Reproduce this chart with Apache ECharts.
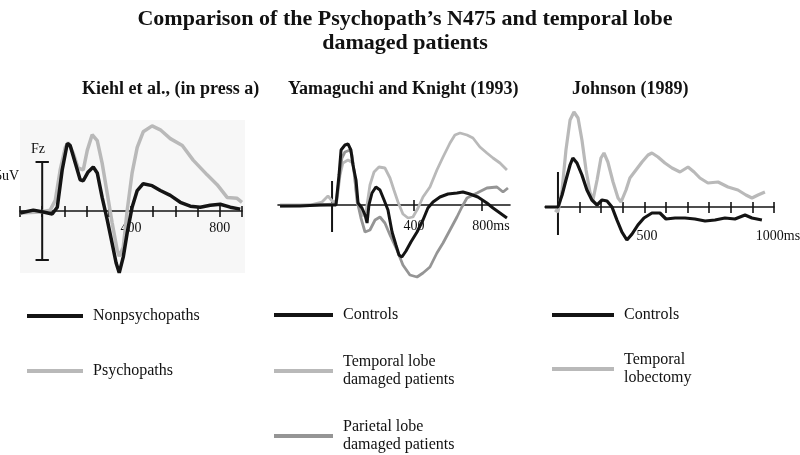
<!DOCTYPE html>
<html>
<head>
<meta charset="utf-8">
<title>N475 comparison</title>
<script src="https://cdn.jsdelivr.net/npm/echarts@6/dist/echarts.min.js"></script>
<style>
  html, body { margin: 0; padding: 0; background: #fff; }
  #main { width: 800px; height: 455px; }
</style>
</head>
<body>
<div id="main"></div>
<script>
// ---- Kiehl et al. (ms, uV; negative plotted up) ----
var kiehlNonTime = [-100,-40,5,45,68,90,113,126,149,171,185,207,230,248,270,293,315,333,347,365,383,405,428,455,495,532,577,622,667,712,757,802,847,892];
var kiehlNonUv   = [0.2,-0.1,0.1,0.3,-0.4,-4.2,-6.9,-6.7,-4.9,-3.2,-3.1,-4.0,-4.5,-3.9,-1.4,0.9,3.3,5.3,6.3,4.7,2.2,-0.4,-2.1,-2.8,-2.6,-2.1,-1.6,-0.9,-0.5,-0.4,-0.6,-0.7,-0.4,-0.2];
var kiehlPsyTime = [-100,-9,36,59,81,104,117,140,162,185,203,225,248,270,293,315,338,347,365,383,405,428,455,495,532,577,631,680,743,788,833,878,900];
var kiehlPsyUv   = [0.2,0.1,-0.1,-1.1,-4.2,-6.5,-7.0,-5.9,-4.4,-4.2,-6.2,-7.8,-7.2,-4.9,-1.8,1.2,4.0,4.6,3.7,-0.1,-3.9,-6.5,-8.1,-8.7,-8.3,-7.4,-6.7,-5.2,-3.7,-2.7,-1.4,-1.3,-0.9];
var kiehlTicks  = [-100,0,100,200,300,400,500,600,700,800,900];
var kiehlLabels = [400, 800];

// ---- Yamaguchi and Knight (1993) ----
var ykCtrlTime = [-388,-271,-153,-59,-41,-29,-6,12,29,41,59,71,94,112,124,135,153,176,200,224,247,271,294,312,329,353,382,418,453,482,512,553,600,653,688,729,776,829,865,906,947];
var ykCtrlUv   = [0.2,0.2,0,0,-6,-11,-12,-12.2,-11,-8,-5,-0.4,0.6,2,3.6,0,-2.4,-3.6,-3,-1,1,5.4,8,10,10.4,9.2,7.4,5.4,3,0.6,-0.6,-1.6,-2.2,-2.4,-2.6,-2.2,-1.6,-0.4,0.6,1.6,2.6];
var ykTempTime = [-388,-212,-141,-106,-76,-53,-35,-18,12,41,53,65,82,100,118,141,165,194,229,259,282,306,335,365,394,424,453,494,535,571,612,641,671,712,747,788,829,865,906,947];
var ykTempUv   = [0,0,-0.6,-1.8,-0.6,-1,-6,-8.4,-9,-8.4,-5,-0.6,1,2.2,1.4,-4,-6.6,-7.6,-7.4,-5.4,-3,-0.6,1.8,2.6,2.4,0.6,-1.6,-3.6,-7,-9.6,-12.4,-14,-14.4,-14,-13.4,-11.6,-10.4,-9.4,-8.4,-7];
var ykPariTime = [-388,-153,-59,-41,-24,-6,24,35,47,59,71,88,112,141,171,200,229,259,300,335,376,418,453,494,535,571,612,653,682,712,771,829,888,924,953];
var ykPariUv   = [0.2,0,-0.2,-5,-9.4,-10.6,-11,-10,-7,-3,0,2.6,5.4,5,3,2.4,3.6,6,9,12,14,14.4,13.6,12.4,9.6,7.6,5,2.4,0.4,-1.4,-2.4,-3.4,-3.6,-2.6,-3.4];
var ykTicks = [400, 800];
var ykOnset = -82;

// ---- Johnson (1989) ----
var jCtrlTime = [-60,0,19,37,56,69,88,111,134,157,181,204,227,250,273,296,319,343,370,398,435,472,500,542,588,634,681,727,773,819,866,898,944];
var jCtrlUv   = [0,0,-2.4,-5.4,-8.4,-9.8,-8.8,-6.4,-3.4,-1.4,-0.4,-1.4,-1.2,0,2.6,5,6.6,5.4,3.6,2.2,1.2,1.2,2.4,2.2,2.2,2.4,2.8,2.6,2.2,2.4,1.6,2.2,2.6];
var jLobTime  = [-14,0,19,37,56,74,93,111,130,148,162,181,199,213,231,255,278,292,315,333,361,389,417,435,463,495,528,565,602,630,657,694,741,787,833,870,898,926,958];
var jLobUv    = [0.6,1,-3.4,-11.4,-17.4,-19,-17.8,-13.4,-7.4,-3,-1.4,-5.4,-9.8,-10.8,-9,-5,-1.8,-1,-3.4,-5.8,-7.4,-9,-10.4,-10.8,-10,-8.8,-7.8,-7,-8,-7,-5.8,-4.8,-5,-4,-3.4,-2.4,-1.8,-2.4,-3];
var jTicks  = [100,200,300,400,500,600,700,800,900,1000];
var jLabels = [500, 1000];

var legendText = {
  'Nonpsychopaths': 'Nonpsychopaths',
  'Psychopaths': 'Psychopaths',
  'YK Controls': 'Controls',
  'Temporal lobe damaged': 'Temporal lobe\ndamaged patients',
  'Parietal lobe damaged': 'Parietal lobe\ndamaged patients',
  'J Controls': 'Controls',
  'Temporal lobectomy': 'Temporal\nlobectomy'
};

var SERIF = "'Liberation Serif', 'Times New Roman', serif";
var BLACK = '#141414', LIGHT = '#b9b9b9', MID = '#959595';

function zip(t, v) {
  return t.map(function (x, i) { return [x, v[i]]; });
}

function wave(name, idx, t, v, color, width) {
  return {
    name: name, type: 'line', xAxisIndex: idx, yAxisIndex: idx, z: 3,
    data: zip(t, v), showSymbol: false, symbol: 'none', clip: false,
    color: color, itemStyle: { color: color },
    lineStyle: { color: color, width: width }
  };
}

// scale bar / stimulus line, drawn through the axes (caps optional)
function bar(idx, x, y0, y1, cap) {
  var pts = [[x, y0], [x, y1]];
  if (cap) {
    pts = [[x - cap, y0], [x + cap, y0], [x, y0], [x, y1], [x - cap, y1], [x + cap, y1]];
  }
  return {
    name: 'bar' + idx, type: 'line', xAxisIndex: idx, yAxisIndex: idx, z: 2,
    data: pts, showSymbol: false, symbol: 'none', clip: false, silent: true,
    lineStyle: { color: BLACK, width: 2 }
  };
}

var labelRich = {
  r: { fontFamily: SERIF, fontSize: 14, color: '#111', padding: [0, 0, 0, 18] },
  rs: { fontFamily: SERIF, fontSize: 14, color: '#111', padding: [0, 0, 0, 8] },
  l: { fontFamily: SERIF, fontSize: 14, color: '#111', padding: [0, 38, 0, 0] }
};

// zero line sits on the bottom edge of each grid
function xMain(idx, min, max, ticks, labels, margin, fmt) {
  return {
    type: 'value', gridIndex: idx, min: min, max: max, position: 'bottom',
    axisLine: { onZero: false, lineStyle: { color: BLACK, width: 1.6 } },
    axisTick: { show: true, customValues: ticks, length: 6, lineStyle: { color: BLACK, width: 1.6 } },
    axisLabel: { show: true, customValues: labels, margin: margin, color: '#111',
      fontFamily: SERIF, fontSize: 14, formatter: fmt, rich: labelRich },
    splitLine: { show: false }
  };
}

// second axis only for the upper half of the ticks
function xUp(idx, min, max, ticks) {
  return {
    type: 'value', gridIndex: idx, min: min, max: max, position: 'bottom',
    axisLine: { show: false, onZero: false },
    axisTick: { show: true, inside: true, customValues: ticks, length: 5, lineStyle: { color: BLACK, width: 1.6 } },
    axisLabel: { show: false },
    splitLine: { show: false }
  };
}

function yHidden(idx, min) {
  return { type: 'value', gridIndex: idx, min: min, max: 0, inverse: true, show: false, splitLine: { show: false } };
}

function legendBox(left, top, width, gap, names) {
  return {
    orient: 'vertical', left: left, top: top, height: 200, itemWidth: width, itemHeight: 4,
    itemGap: gap, icon: 'rect', selectedMode: false, padding: 0,
    itemStyle: { borderWidth: 0 },
    data: names,
    formatter: function (n) { return legendText[n]; },
    textStyle: { fontFamily: SERIF, fontSize: 16, color: '#111', lineHeight: 18, padding: [0, 0, 0, 5] }
  };
}

var chart = echarts.init(document.getElementById('main'), null, { renderer: 'canvas' });

var option = {
  animation: false,
  backgroundColor: '#fff',
  title: [
    { text: 'Comparison of the Psychopath\u2019s N475 and temporal lobe\ndamaged patients',
      left: 400, top: 2, textAlign: 'center',
      textStyle: { fontFamily: SERIF, fontSize: 22, fontWeight: 'bold', color: '#111', lineHeight: 24 } },
    { text: 'Kiehl et al., (in press a)', left: 77, top: 75,
      textStyle: { fontFamily: SERIF, fontSize: 18, fontWeight: 'bold', color: '#111' } },
    { text: 'Yamaguchi and Knight (1993)', left: 283, top: 75,
      textStyle: { fontFamily: SERIF, fontSize: 18, fontWeight: 'bold', color: '#111' } },
    { text: 'Johnson (1989)', left: 567, top: 75,
      textStyle: { fontFamily: SERIF, fontSize: 18, fontWeight: 'bold', color: '#111' } }
  ],
  grid: [
    { left: 20, top: 120, width: 222, height: 91.1, outerBoundsMode: 'none' },
    { left: 278, top: 120, width: 232, height: 85, outerBoundsMode: 'none' },
    { left: 545, top: 102, width: 229, height: 105, outerBoundsMode: 'none' }
  ],
  xAxis: [
    xMain(0, -100, 900, kiehlTicks, kiehlLabels, 10, function (v) { return String(v); }),
    xMain(1, -400, 965, ykTicks, ykTicks, 14, function (v) { return v === 800 ? '{r|800ms}' : String(v); }),
    xMain(2, -60, 1000, jTicks, jLabels, 22, function (v) { return v === 1000 ? '{rs|1000ms}' : '{l|' + v + '}'; }),
    xUp(0, -100, 900, kiehlTicks),
    xUp(1, -400, 965, ykTicks),
    xUp(2, -60, 1000, jTicks)
  ],
  yAxis: [
    yHidden(0, -9.3),
    yHidden(1, -17),
    yHidden(2, -21)
  ],
  legend: [
    legendBox(27, 307, 56, 37, ['Nonpsychopaths', 'Psychopaths']),
    legendBox(274, 306, 59, 29, ['YK Controls', 'Temporal lobe damaged', 'Parietal lobe damaged']),
    legendBox(552, 306, 62, 27, ['J Controls', 'Temporal lobectomy'])
  ],
  graphic: [
    // faint panel behind the Kiehl plot
    { type: 'rect', z: -10, silent: true, shape: { x: 20, y: 120, width: 225, height: 153 }, style: { fill: '#f7f7f7' } },
    { type: 'text', x: 38, y: 149, style: { text: 'Fz', font: '14px ' + SERIF, fill: '#111', align: 'center', verticalAlign: 'middle' } },
    { type: 'text', x: 19, y: 176, style: { text: '-5uV', font: '14px ' + SERIF, fill: '#111', align: 'right', verticalAlign: 'middle' } }
  ],
  series: [
    bar(0, 0, -5, 5, 30),
    wave('Psychopaths', 0, kiehlPsyTime, kiehlPsyUv, LIGHT, 3.5),
    wave('Nonpsychopaths', 0, kiehlNonTime, kiehlNonUv, BLACK, 3.5),
    bar(1, ykOnset, -4.8, 5.4, 0),
    wave('Temporal lobe damaged', 1, ykTempTime, ykTempUv, LIGHT, 2.8),
    wave('Parietal lobe damaged', 1, ykPariTime, ykPariUv, MID, 2.8),
    wave('YK Controls', 1, ykCtrlTime, ykCtrlUv, BLACK, 3),
    bar(2, 0, -7, 5.6, 0),
    wave('Temporal lobectomy', 2, jLobTime, jLobUv, LIGHT, 3.2),
    wave('J Controls', 2, jCtrlTime, jCtrlUv, BLACK, 3.2)
  ]
};

chart.setOption(option);
</script>
</body>
</html>
